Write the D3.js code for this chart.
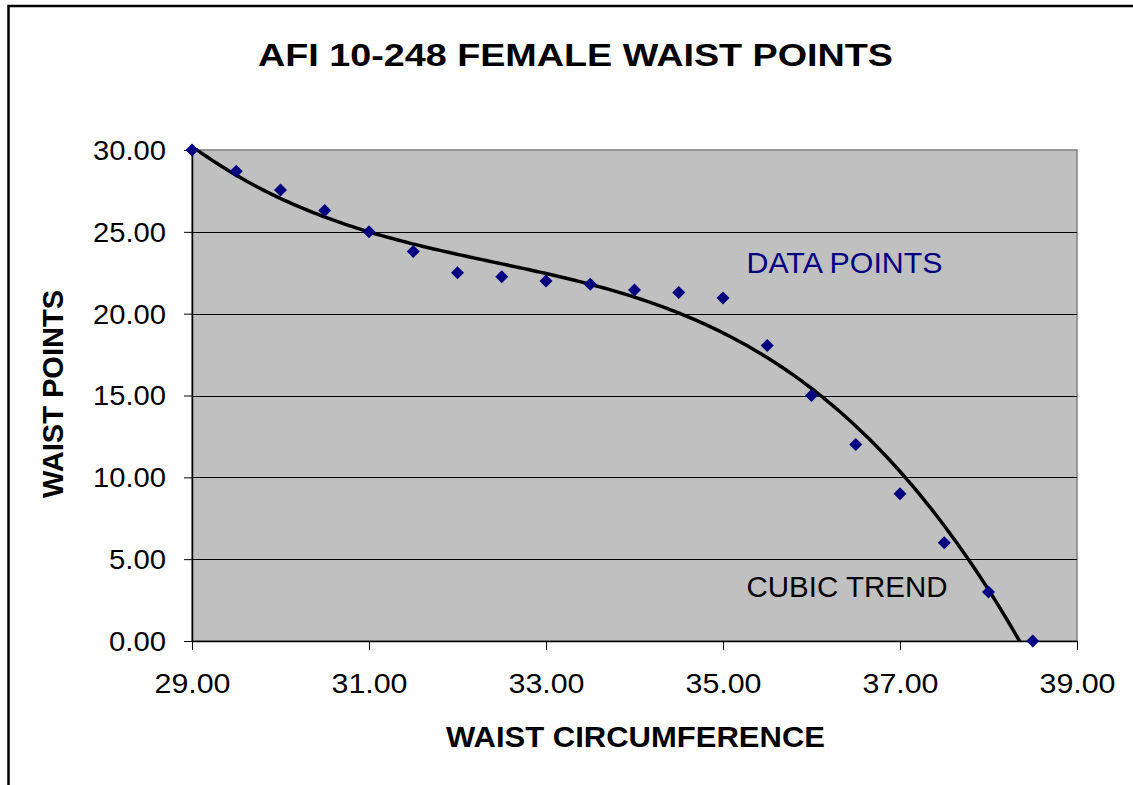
<!DOCTYPE html>
<html><head><meta charset="utf-8">
<script src="https://cdn.jsdelivr.net/npm/d3@7"></script>
<style>
html,body{margin:0;padding:0;background:#fff;}
svg{display:block;font-family:Arial,"Liberation Sans",sans-serif;}
</style></head>
<body>
<svg id="c" width="1133" height="785"></svg>
<script>
const waist = [29, 29.5, 30, 30.5, 31, 31.5, 32, 32.5, 33, 33.5, 34, 34.5, 35, 35.5, 36, 36.5, 37, 37.5, 38, 38.5];
const points = [30, 28.7, 27.55, 26.3, 25, 23.8, 22.5, 22.25, 22, 21.8, 21.45, 21.3, 20.95, 18.05, 15, 12, 9, 6, 3, 0];
const xTicks = [29, 31, 33, 35, 37, 39];
const yTicks = [0, 5, 10, 15, 20, 25, 30];
const title = "AFI 10-248 FEMALE WAIST POINTS";
const xTitle = "WAIST CIRCUMFERENCE";
const yTitle = "WAIST POINTS";

const svg = d3.select("#c");
const L = 192, R = 1077, T = 150, B = 641;
const x = d3.scaleLinear().domain([29, 39]).range([L, R]);
const y = d3.scaleLinear().domain([0, 30]).range([B, T]);

// outer chart border
svg.append("rect").attr("x", 8.5).attr("y", 6).attr("width", 1200).attr("height", 900)
  .attr("fill", "none").attr("stroke", "#000").attr("stroke-width", 2.5);

// plot area
svg.append("rect").attr("x", L).attr("y", T).attr("width", R - L).attr("height", B - T)
  .attr("fill", "#c0c0c0").attr("stroke", "#808080").attr("stroke-width", 1.5);

// gridlines
svg.append("g").selectAll("line").data(yTicks.filter(d => d > 0 && d < 30)).join("line")
  .attr("x1", L).attr("x2", R).attr("y1", d => Math.round(y(d)) + 0.5).attr("y2", d => Math.round(y(d)) + 0.5)
  .attr("stroke", "#000").attr("stroke-width", 1);

// axes
const yAxis = d3.axisLeft(y).tickValues(yTicks).tickFormat(d3.format(".2f")).tickSizeInner(8).tickSizeOuter(0).tickPadding(18);
const gy = svg.append("g").attr("transform", `translate(${L},0)`).call(yAxis);
const xAxis = d3.axisBottom(x).tickValues(xTicks).tickFormat(d3.format(".2f")).tickSizeInner(9).tickSizeOuter(0).tickPadding(24);
const gx = svg.append("g").attr("transform", `translate(0,${B})`).call(xAxis);
[gx, gy].forEach(g => {
  g.select(".domain").attr("stroke", "#000").attr("stroke-width", 1.5);
  g.selectAll(".tick line").attr("stroke", "#000").attr("stroke-width", 1);
  g.selectAll(".tick text").attr("font-size", 27).attr("fill", "#000")
    .attr("font-family", "Arial, 'Liberation Sans', sans-serif")
    .attr("textLength", 73).attr("lengthAdjust", "spacingAndGlyphs");
});
gy.selectAll(".tick text").attr("dy", "0.35em").filter(d => d < 10).attr("textLength", 57);
gx.selectAll(".tick text").attr("dy", "0.71em").attr("textLength", 76);

// cubic least-squares trendline computed from data
function cubicFit(xs, ys) {
  const c = 34;
  const n = 4;
  const A = Array.from({length: n}, () => new Array(n + 1).fill(0));
  xs.forEach((xv, i) => {
    const t = xv - c;
    const p = [1, t, t * t, t * t * t];
    for (let r = 0; r < n; r++) {
      for (let k = 0; k < n; k++) A[r][k] += p[r] * p[k];
      A[r][n] += p[r] * ys[i];
    }
  });
  for (let i = 0; i < n; i++) {
    let m = i;
    for (let r = i + 1; r < n; r++) if (Math.abs(A[r][i]) > Math.abs(A[m][i])) m = r;
    [A[i], A[m]] = [A[m], A[i]];
    for (let r = 0; r < n; r++) {
      if (r === i) continue;
      const f = A[r][i] / A[i][i];
      for (let k = i; k <= n; k++) A[r][k] -= f * A[i][k];
    }
  }
  const coef = A.map((row, i) => row[n] / row[i]);
  return xv => { const t = xv - c; return coef[0] + coef[1] * t + coef[2] * t * t + coef[3] * t * t * t; };
}
const f = cubicFit(waist, points);
const xs = d3.range(0, 201).map(i => waist[0] + (waist[waist.length - 1] - waist[0]) * i / 200);
svg.append("clipPath").attr("id", "clip").append("rect")
  .attr("x", L).attr("y", T - 2).attr("width", R - L).attr("height", B - T + 2);
svg.append("path").datum(xs).attr("clip-path", "url(#clip)")
  .attr("fill", "none").attr("stroke", "#000").attr("stroke-width", 3.5).attr("stroke-linejoin", "round")
  .attr("d", d3.line().x(d => x(d)).y(d => y(f(d))));

// markers
svg.append("g").selectAll("path").data(waist.map((w, i) => [w, points[i]])).join("path")
  .attr("transform", d => `translate(${x(d[0])},${y(d[1])})`)
  .attr("d", "M0,-6.5L6.5,0L0,6.5L-6.5,0Z").attr("fill", "#000080");

// annotations
svg.append("text").attr("x", 746.5).attr("y", 273).attr("font-size", 29).attr("fill", "#000080")
  .attr("textLength", 196).attr("lengthAdjust", "spacingAndGlyphs").text("DATA POINTS");
svg.append("text").attr("x", 746.5).attr("y", 597).attr("font-size", 29).attr("fill", "#000")
  .attr("textLength", 201).attr("lengthAdjust", "spacingAndGlyphs").text("CUBIC TREND");

// titles
svg.append("text").attr("x", 575.5).attr("y", 66).attr("text-anchor", "middle").attr("font-weight", "bold")
  .attr("font-size", 31).attr("textLength", 635).attr("lengthAdjust", "spacingAndGlyphs").text(title);
svg.append("text").attr("x", 635.5).attr("y", 747).attr("text-anchor", "middle").attr("font-weight", "bold")
  .attr("font-size", 29).attr("textLength", 379).attr("lengthAdjust", "spacingAndGlyphs").text(xTitle);
svg.append("text").attr("transform", "translate(63,394) rotate(-90)").attr("text-anchor", "middle").attr("font-weight", "bold")
  .attr("font-size", 29).attr("textLength", 208).attr("lengthAdjust", "spacingAndGlyphs").text(yTitle);
</script>
</body></html>
